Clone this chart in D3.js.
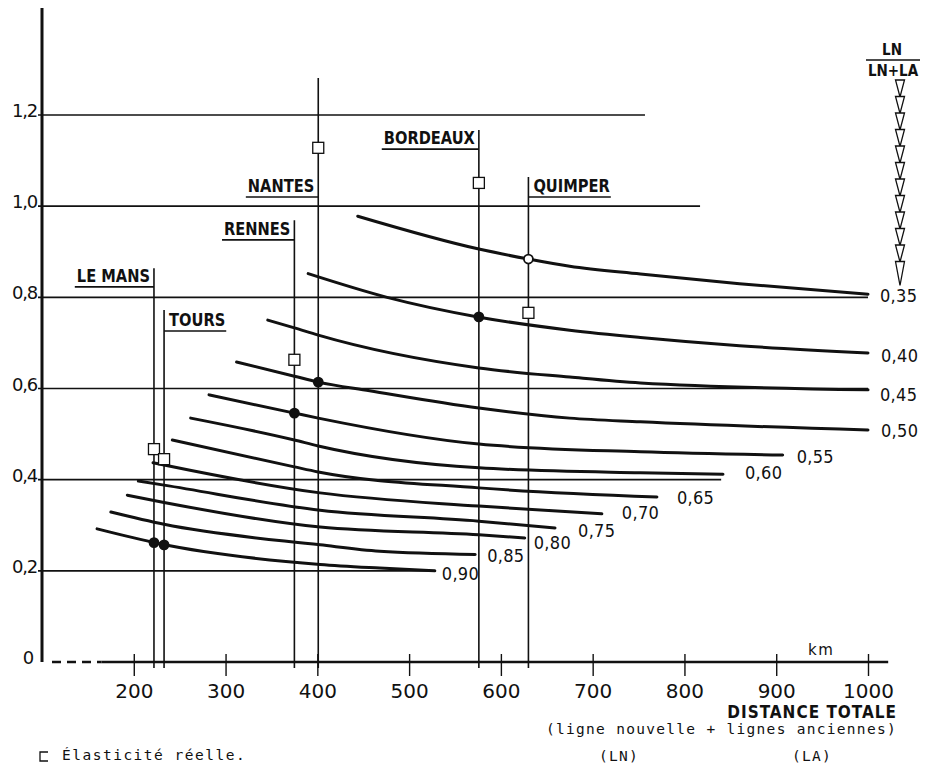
<!DOCTYPE html>
<html>
<head>
<meta charset="utf-8">
<script src="https://cdn.jsdelivr.net/npm/d3@7"></script>
<style>
  body { margin: 0; background: #fff; }
  svg { display: block; }
</style>
</head>
<body>
<svg id="chart" width="929" height="768"></svg>
<script>
// distance totale (km) en abscisse, élasticité en ordonnée
const xTicks = [200, 300, 400, 500, 600, 700, 800, 900, 1000];
const yTicks = [0, 0.2, 0.4, 0.6, 0.8, 1.0, 1.2];
// où s'arrête chaque ligne horizontale (km), pour 0,2 .. 1,2
const gridEnds = [528, 840, 1000, 1000, 817, 757];

// une courbe par rapport LN / (LN + LA) : [km, élasticité]
const ratios = [0.35, 0.40, 0.45, 0.50, 0.55, 0.60, 0.65, 0.70, 0.75, 0.80, 0.85, 0.90];
const c35 = [[444, 0.978], [576, 0.906], [630, 0.884], [675, 0.868], [752, 0.851], [860, 0.830], [1000, 0.807]];
const c40 = [[390, 0.852], [476, 0.800], [575, 0.757], [675, 0.728], [752, 0.712], [860, 0.694], [1000, 0.678]];
const c45 = [[346, 0.750], [375, 0.733], [401, 0.717], [576, 0.645], [675, 0.625], [752, 0.612], [1000, 0.597]];
const c50 = [[312, 0.658], [375, 0.627], [401, 0.614], [457, 0.595], [576, 0.557], [675, 0.535], [752, 0.527], [1000, 0.509]];
const c55 = [[282, 0.586], [375, 0.546], [401, 0.535], [576, 0.478], [752, 0.461], [907, 0.454]];
const c60 = [[262, 0.535], [375, 0.487], [401, 0.474], [576, 0.426], [752, 0.415], [842, 0.412]];
const c65 = [[242, 0.487], [375, 0.428], [401, 0.417], [576, 0.382], [770, 0.362]];
const c70 = [[221, 0.437], [233, 0.432], [403, 0.371], [576, 0.342], [710, 0.325]];
const c75 = [[205, 0.397], [233, 0.388], [403, 0.333], [576, 0.309], [659, 0.294]];
const c80 = [[193, 0.366], [233, 0.350], [403, 0.296], [576, 0.279], [626, 0.272]];
const c85 = [[175, 0.329], [233, 0.302], [403, 0.257], [468, 0.243], [572, 0.236]];
const c90 = [[160, 0.292], [227, 0.260], [403, 0.214], [468, 0.206], [528, 0.200]];
const curves = [c35, c40, c45, c50, c55, c60, c65, c70, c75, c80, c85, c90];

// villes
const cities = ['LE MANS', 'TOURS', 'RENNES', 'NANTES', 'BORDEAUX', 'QUIMPER'];
const cityKm = [222, 233, 375, 401, 576, 630];
const cityReal = [0.467, 0.445, 0.663, 1.128, 1.051, 0.766];      // élasticité réelle (carrés)
const cityCalc = [0.262, 0.257, 0.546, 0.614, 0.757, 0.884];      // point sur la courbe
const cityLabelAt = [0.834, 0.737, 0.937, 1.031, 1.136, 1.031];   // ligne de base du nom
const cityTop = [0.864, 0.772, 0.969, 1.281, 1.167, 1.064];
const citySide = ['left', 'right', 'left', 'left', 'left', 'right'];

const ink = '#111';
const cond = '"DejaVu Sans Condensed", "Liberation Sans Narrow", sans-serif';
const mono = '"DejaVu Sans Mono", monospace';
const svg = d3.select('#chart');

const x = d3.scaleLinear().domain([100, 1000]).range([42, 868]);
const y = d3.scaleLinear().domain([0, 1.2]).range([662, 115]);

const comma = f => v => d3.format(f)(v).replace('.', ',');

// décalage des étiquettes de courbe par rapport au bout de la courbe (px)
const labelDx = [12, 13, 12, 13, 14, 22, 20, 20, 23, 9, 12, 7];
const labelDy = [1, 2, 4, 0, 1, -2, 0, -2, 2, 4, 1, 2];

// lignes horizontales
svg.append('g').selectAll('line')
  .data(yTicks.slice(1))
  .join('line')
  .attr('x1', x(100) - 4)
  .attr('x2', (d, i) => x(gridEnds[i]))
  .attr('y1', d => y(d))
  .attr('y2', d => y(d))
  .attr('stroke', ink)
  .attr('stroke-width', 1.6);

// axe vertical
svg.append('line')
  .attr('x1', x(100)).attr('x2', x(100))
  .attr('y1', y(1.435)).attr('y2', y(0))
  .attr('stroke', ink).attr('stroke-width', 3);

svg.append('g').selectAll('text')
  .data(yTicks)
  .join('text')
  .attr('x', d => d === 0 ? 33 : 37)
  .attr('y', d => y(d) + 2)
  .attr('text-anchor', 'end')
  .attr('font-family', 'DejaVu Sans')
  .attr('font-size', 18)
  .attr('letter-spacing', -1.2)
  .attr('fill', ink)
  .text(d => d === 0 ? '0' : comma('.1f')(d));

// axe horizontal : pointillé au début puis plein
svg.append('line')
  .attr('x1', x(100) + 10).attr('x2', x(165))
  .attr('y1', y(0)).attr('y2', y(0))
  .attr('stroke', ink).attr('stroke-width', 2.5)
  .attr('stroke-dasharray', '9,6');
svg.append('line')
  .attr('x1', x(165)).attr('x2', x(1022))
  .attr('y1', y(0)).attr('y2', y(0))
  .attr('stroke', ink).attr('stroke-width', 2.5);

const xAxis = d3.axisBottom(x).tickValues(xTicks).tickSize(14).tickPadding(8).tickFormat(d3.format('d'));
const gx = svg.append('g')
  .attr('transform', `translate(0,${y(0)})`)
  .call(xAxis);
gx.select('.domain').remove();
gx.selectAll('.tick line').attr('y1', -8).attr('stroke', ink).attr('stroke-width', 1.4);
gx.selectAll('.tick text')
  .attr('fill', ink)
  .attr('font-family', 'DejaVu Sans')
  .attr('font-size', 20);

svg.append('text')
  .attr('x', 808).attr('y', 655)
  .attr('font-family', 'DejaVu Sans')
  .attr('font-size', 15)
  .attr('letter-spacing', 1.5)
  .attr('fill', ink)
  .text('km');

// villes : traits verticaux et noms soulignés
const cityG = svg.append('g').selectAll('g')
  .data(cities)
  .join('g');

cityG.append('line')
  .attr('x1', (d, i) => x(cityKm[i]))
  .attr('x2', (d, i) => x(cityKm[i]))
  .attr('y1', (d, i) => y(cityTop[i]))
  .attr('y2', y(0) + 6)
  .attr('stroke', ink)
  .attr('stroke-width', 1.6);

cityG.append('text')
  .attr('x', (d, i) => x(cityKm[i]) + (citySide[i] === 'left' ? -4 : 5))
  .attr('y', (d, i) => y(cityLabelAt[i]))
  .attr('text-anchor', (d, i) => citySide[i] === 'left' ? 'end' : 'start')
  .attr('font-family', cond)
  .attr('font-weight', 'bold')
  .attr('font-size', 18.5)
  .attr('fill', ink)
  .text(d => d);

// lettres hautes et serrées comme sur l'original
cityG.each(function (d, i) {
  const g = d3.select(this);
  const t = g.select('text');
  const w = t.node().getComputedTextLength() * 0.88;
  t.attr('textLength', w).attr('lengthAdjust', 'spacingAndGlyphs');
  const cx = x(cityKm[i]);
  const x2 = citySide[i] === 'left' ? cx - w - 6 : cx + w + 6;
  g.append('line')
    .attr('x1', cx).attr('x2', x2)
    .attr('y1', y(cityLabelAt[i]) + 5).attr('y2', y(cityLabelAt[i]) + 5)
    .attr('stroke', ink).attr('stroke-width', 1.6);
});

// courbes
const line = d3.line()
  .x(d => x(d[0]))
  .y(d => y(d[1]))
  .curve(d3.curveMonotoneX);

svg.append('g').selectAll('path')
  .data(curves)
  .join('path')
  .attr('d', line)
  .attr('fill', 'none')
  .attr('stroke', ink)
  .attr('stroke-width', 3)
  .attr('stroke-linecap', 'round');

svg.append('g').selectAll('text')
  .data(curves)
  .join('text')
  .attr('x', (d, i) => x(d[d.length - 1][0]) + labelDx[i])
  .attr('y', (d, i) => y(d[d.length - 1][1]) + labelDy[i] + 7)
  .attr('font-family', cond)
  .attr('font-size', 18)
  .attr('letter-spacing', 0.3)
  .attr('fill', ink)
  .text((d, i) => comma('.2f')(ratios[i]));

// points calculés sur les courbes
svg.append('g').selectAll('circle')
  .data(cities)
  .join('circle')
  .attr('cx', (d, i) => x(cityKm[i]))
  .attr('cy', (d, i) => y(cityCalc[i]))
  .attr('r', 4.5)
  .attr('fill', (d, i) => i === 5 ? '#fff' : ink)
  .attr('stroke', ink)
  .attr('stroke-width', 1.8);

// élasticité réelle
svg.append('g').selectAll('rect')
  .data(cities)
  .join('rect')
  .attr('x', (d, i) => x(cityKm[i]) - 5.5)
  .attr('y', (d, i) => y(cityReal[i]) - 5.5)
  .attr('width', 11)
  .attr('height', 11)
  .attr('fill', '#fff')
  .attr('stroke', ink)
  .attr('stroke-width', 1.3);

// LN / (LN + LA) en haut à droite
const lg = svg.append('g').attr('font-family', cond).attr('font-weight', 'bold').attr('font-size', 15).attr('fill', ink);
lg.append('text').attr('x', 892).attr('y', 55).attr('text-anchor', 'middle').text('LN');
lg.append('line').attr('x1', 866).attr('x2', 920).attr('y1', 60).attr('y2', 60).attr('stroke', ink).attr('stroke-width', 1.6);
lg.append('text').attr('x', 893).attr('y', 76).attr('text-anchor', 'middle').text('LN+LA');

svg.append('g').selectAll('path')
  .data(d3.range(12))
  .join('path')
  .attr('d', i => {
    const t = 80 + i * 16.5;
    const h = i === 11 ? 24 : 17;
    return `M895.5,${t}L904.5,${t}L900,${t + h}Z`;
  })
  .attr('fill', '#fff')
  .attr('stroke', ink)
  .attr('stroke-width', 1.3);

// titre de l'axe
svg.append('text')
  .attr('x', 897).attr('y', 718)
  .attr('text-anchor', 'end')
  .attr('font-family', cond)
  .attr('font-weight', 'bold')
  .attr('font-size', 17)
  .attr('letter-spacing', 1)
  .attr('fill', ink)
  .text('DISTANCE TOTALE');

const note = svg.append('g')
  .attr('font-family', mono)
  .attr('font-size', 14.5)
  .attr('letter-spacing', 1.3)
  .attr('fill', ink);
note.append('text').attr('x', 897).attr('y', 734).attr('text-anchor', 'end').text('(ligne nouvelle + lignes anciennes)');
note.append('text').attr('x', 599).attr('y', 761).text('(LN)');
note.append('text').attr('x', 792).attr('y', 761).text('(LA)');

// légende
svg.append('path')
  .attr('d', 'M48,752H40V761H48')
  .attr('fill', 'none')
  .attr('stroke', ink)
  .attr('stroke-width', 1.3);
svg.append('text')
  .attr('x', 62).attr('y', 760)
  .attr('font-family', mono)
  .attr('font-size', 14.5)
  .attr('letter-spacing', 1.5)
  .attr('fill', ink)
  .text('Élasticité réelle.');
</script>
</body>
</html>
